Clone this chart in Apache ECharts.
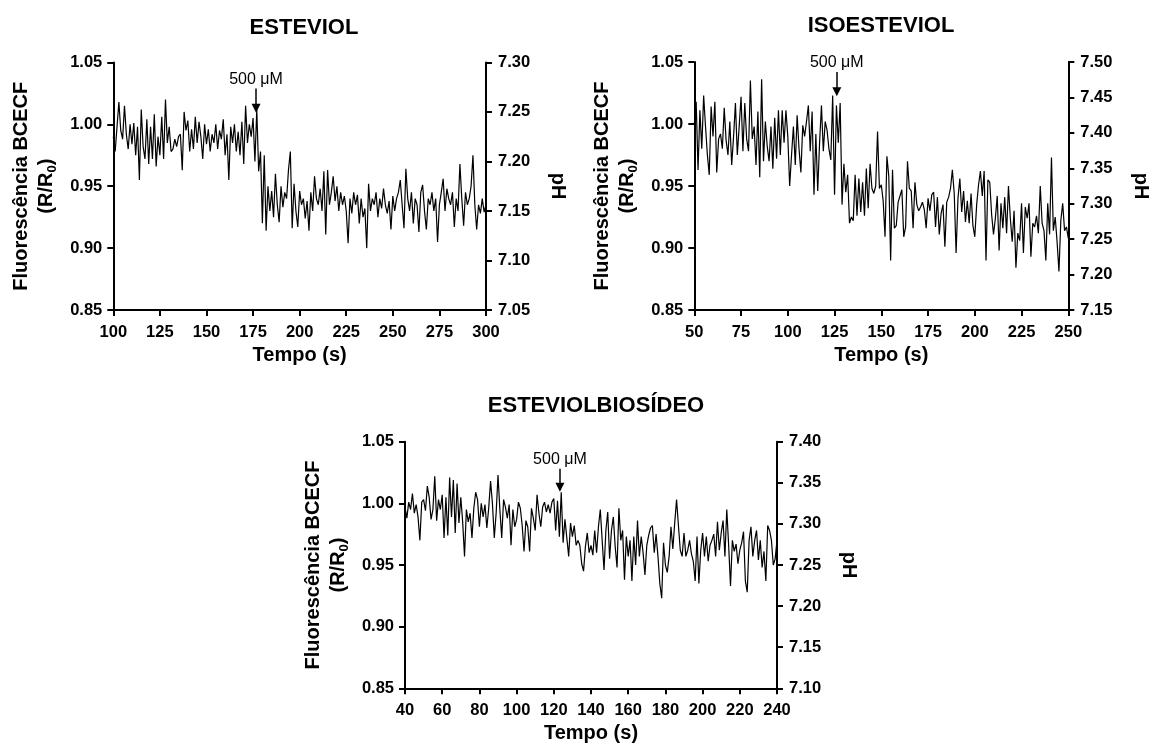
<!DOCTYPE html>
<html><head><meta charset="utf-8">
<script src="https://cdn.jsdelivr.net/npm/echarts@6/dist/echarts.min.js"></script>
<style>html,body{margin:0;padding:0;background:#fff}#c{width:1155px;height:746px}</style>
</head><body><div id="c"></div><script>
const FONT = "Arial, 'Liberation Sans', Helvetica, sans-serif";

// ---------- data (1 sample per second) ----------
const esteviolStart = 100;
const esteviolValues = [
0.990,0.978,0.998,1.018,0.995,0.988,1.015,0.992,0.980,1.000,
0.984,1.001,0.975,0.998,0.955,1.012,0.982,0.972,1.004,0.968,
0.998,0.972,1.008,0.966,0.990,0.975,1.006,0.972,1.020,0.985,
0.998,0.978,0.980,0.988,0.982,0.990,0.992,0.963,1.010,0.995,
1.003,0.978,0.996,0.980,1.006,0.985,1.002,0.990,0.972,1.000,
0.984,0.996,0.978,0.992,0.985,1.000,0.980,0.995,0.988,1.004,
0.975,0.992,0.955,0.998,0.985,1.000,0.978,0.994,0.975,1.002,
0.968,1.015,0.985,1.000,0.990,1.005,0.970,1.012,0.962,0.978,
0.920,0.975,0.914,0.950,0.930,0.946,0.925,0.960,0.935,0.921,
0.950,0.933,0.945,0.940,0.963,0.978,0.916,0.952,0.930,0.917,
0.946,0.935,0.940,0.924,0.938,0.914,0.945,0.930,0.958,0.940,
0.935,0.948,0.930,0.962,0.911,0.963,0.935,0.945,0.958,0.938,
0.950,0.930,0.945,0.935,0.942,0.930,0.904,0.940,0.928,0.945,
0.935,0.943,0.920,0.940,0.925,0.932,0.900,0.952,0.930,0.940,
0.935,0.945,0.925,0.940,0.932,0.948,0.935,0.928,0.938,0.915,
0.942,0.930,0.940,0.945,0.955,0.935,0.916,0.964,0.940,0.930,
0.945,0.920,0.940,0.935,0.913,0.945,0.951,0.930,0.915,0.940,
0.935,0.945,0.930,0.940,0.905,0.935,0.945,0.956,0.930,0.948,
0.940,0.935,0.945,0.917,0.940,0.930,0.968,0.940,0.918,0.945,
0.935,0.940,0.950,0.975,0.935,0.915,0.935,0.928,0.940,0.929,
0.935];

const isoesteviolStart = 50;
const isoesteviolValues = [
1.000,1.018,0.963,1.011,0.980,1.023,0.998,0.975,0.959,1.014,
0.990,1.018,0.961,0.988,0.992,0.980,1.013,0.987,0.975,1.002,
0.967,0.990,1.017,0.975,0.998,1.022,0.978,1.017,0.988,0.978,
1.035,0.988,0.998,0.967,1.010,0.957,1.036,0.970,1.002,0.982,
0.970,0.998,0.964,1.005,0.972,1.011,0.975,1.011,0.985,1.011,
0.990,0.950,0.975,0.998,0.967,1.007,0.980,0.961,0.999,0.990,
1.002,1.015,0.978,1.010,0.943,0.992,0.946,0.985,1.015,0.978,
1.002,0.995,0.980,0.971,1.023,0.943,1.015,0.985,1.017,0.935,
0.968,0.945,0.959,0.920,0.925,0.922,0.959,0.926,0.956,0.929,
0.953,0.926,0.964,0.932,0.968,0.948,0.944,0.950,0.994,0.948,
0.951,0.938,0.909,0.974,0.958,0.890,0.963,0.916,0.918,0.937,
0.938,0.947,0.909,0.917,0.970,0.948,0.946,0.916,0.953,0.935,
0.930,0.933,0.937,0.931,0.916,0.940,0.930,0.943,0.945,0.917,
0.941,0.911,0.928,0.935,0.901,0.937,0.941,0.948,0.963,0.944,
0.896,0.940,0.956,0.929,0.946,0.921,0.938,0.920,0.944,0.918,
0.909,0.935,0.951,0.962,0.942,0.962,0.890,0.955,0.953,0.927,
0.911,0.924,0.942,0.898,0.936,0.916,0.941,0.912,0.950,0.924,
0.905,0.930,0.884,0.912,0.906,0.936,0.896,0.933,0.924,0.936,
0.893,0.920,0.917,0.926,0.912,0.950,0.920,0.914,0.890,0.936,
0.911,0.973,0.914,0.925,0.905,0.881,0.922,0.936,0.914,0.917,
0.908];

const biosideoStart = 40;
const biosideoValues = [
0.997,0.988,1.001,0.995,1.008,0.992,0.999,0.989,0.970,1.001,
1.003,0.994,1.014,1.005,0.987,0.995,1.022,0.986,1.003,0.995,
1.007,0.972,1.005,0.974,1.021,0.989,1.019,0.976,1.016,0.984,
1.005,0.985,0.957,0.995,0.985,0.992,0.972,0.996,1.009,1.003,
0.981,1.000,0.989,0.999,0.980,0.996,1.018,1.000,0.972,0.992,
1.023,0.995,0.972,1.003,0.997,0.988,0.999,0.966,0.995,0.981,
0.987,1.001,0.996,0.982,0.961,0.986,0.981,0.961,0.996,0.988,
0.978,1.007,0.992,0.981,0.997,1.001,0.993,0.999,0.992,1.001,
1.004,0.978,1.002,0.973,1.009,0.968,0.987,0.972,0.957,0.984,
0.973,0.982,0.966,0.970,0.966,0.951,0.945,0.965,0.976,0.960,
0.966,0.958,0.978,0.960,0.981,0.995,0.970,0.946,0.978,0.993,
0.955,0.978,0.989,0.965,0.948,0.996,0.970,0.978,0.938,0.973,
0.957,0.970,0.937,0.973,0.950,0.986,0.957,0.973,0.960,0.942,
0.966,0.974,0.980,0.982,0.960,0.975,0.957,0.935,0.923,0.968,
0.950,0.944,0.957,0.981,0.963,0.984,1.003,0.982,0.962,0.957,
0.976,0.957,0.962,0.970,0.959,0.953,0.937,0.973,0.935,0.962,
0.976,0.957,0.973,0.953,0.966,0.970,0.975,0.957,0.985,0.962,
0.976,0.986,0.957,0.995,0.966,0.933,0.970,0.961,0.967,0.951,
0.962,0.968,0.977,0.937,0.928,0.970,0.981,0.957,0.970,0.978,
0.954,0.970,0.948,0.961,0.937,0.982,0.978,0.970,0.950,0.955,
0.970];

const panelTitles = ['ESTEVIOL', 'ISOESTEVIOL', 'ESTEVIOLBIOSÍDEO'];
const panelStarts = [esteviolStart, isoesteviolStart, biosideoStart];
const panelValues = [esteviolValues, isoesteviolValues, biosideoValues];
const timeAxes = [[100, 300, 25], [50, 250, 25], [40, 240, 20]];
const ratioAxis = [0.85, 1.05, 0.05];
const pHAxes = [[7.05, 7.30, 0.05], [7.15, 7.50, 0.05], [7.10, 7.40, 0.05]];
const injectionLabel = '500 μM';
const injectionArrows = [
  { t: 176.6, from: 1.029, to: 1.013 },
  { t: 126.2, from: 1.042, to: 1.026 },
  { t: 123.3, from: 1.028, to: 1.013 }
];

// ---------- layout ----------
const grids = [
  { left: 113.3, top: 62.4, width: 372.7, height: 247.6 },
  { left: 694.3, top: 62.0, width: 374.0, height: 248.0 },
  { left: 405.0, top: 441.7, width: 372.0, height: 246.6 }
];
const titlePos = [[304, 17], [881, 15], [596, 395]];

const axisLine = { show: true, onZero: false, lineStyle: { color: '#000', width: 2 } };
const axisTick = { show: true, inside: false, length: 6, lineStyle: { color: '#000', width: 2 } };
const labelBase = { color: '#000', fontSize: 16.5, fontWeight: 'bold', fontFamily: FONT };
const nameBase = { color: '#000', fontSize: 20, fontWeight: 'bold', fontFamily: FONT };

const xAxis = [], yAxis = [], series = [], graphic = [];
grids.forEach((g, i) => {
  const [xmin, xmax, xint] = timeAxes[i];
  xAxis.push({
    type: 'value', gridIndex: i, min: xmin, max: xmax, interval: xint,
    axisLine, axisTick, splitLine: { show: false },
    axisLabel: Object.assign({ margin: 14 }, labelBase),
    name: 'Tempo (s)', nameLocation: 'middle', nameGap: 35, nameTextStyle: nameBase
  });
  yAxis.push({
    type: 'value', gridIndex: i, position: 'left',
    min: ratioAxis[0], max: ratioAxis[1], interval: ratioAxis[2],
    axisLine, axisTick, splitLine: { show: false },
    axisLabel: Object.assign({ margin: 11, formatter: v => v.toFixed(2) }, labelBase),
    name: 'Fluorescência BCECF\n(R/R{sub|0})', nameLocation: 'middle', nameGap: 54,
    nameTextStyle: Object.assign({ lineHeight: 25, rich: {
      sub: { fontSize: 13, fontWeight: 'bold', fontFamily: FONT, color: '#000', verticalAlign: 'bottom', lineHeight: 13 }
    } }, nameBase)
  });
  const [pmin, pmax, pint] = pHAxes[i];
  yAxis.push({
    type: 'value', gridIndex: i, position: 'right',
    min: pmin, max: pmax, interval: pint,
    axisLine, axisTick, splitLine: { show: false },
    axisLabel: Object.assign({ margin: 12, formatter: v => v.toFixed(2) }, labelBase),
    name: 'pH', nameLocation: 'middle', nameGap: 62, nameRotate: -90, nameTextStyle: nameBase
  });
  const start = panelStarts[i];
  const data = panelValues[i].map((v, k) => [start + k, v]);
  const a = injectionArrows[i];
  series.push({
    type: 'line', xAxisIndex: i, yAxisIndex: i * 2, data,
    showSymbol: false, symbol: 'none', animation: false, silent: true,
    lineStyle: { color: '#000', width: 1.2 },
    markLine: {
      silent: true, animation: false, symbol: ['none', 'triangle'], symbolSize: [9, 9],
      lineStyle: { color: '#000', width: 1.5, type: 'solid' },
      label: { show: true, position: 'start', distance: 1, formatter: injectionLabel,
               color: '#000', fontSize: 16, fontWeight: 'normal', fontFamily: FONT },
      data: [[{ coord: [a.t, a.from] }, { coord: [a.t, a.to] }]]
    }
  });
  graphic.push({
    type: 'text', x: titlePos[i][0], y: titlePos[i][1], silent: true,
    style: { text: panelTitles[i], align: 'center', verticalAlign: 'top',
             fill: '#000', font: 'bold 22px ' + FONT }
  });
});

const chart = echarts.init(document.getElementById('c'), null, { renderer: 'canvas' });
chart.setOption({
  backgroundColor: '#fff',
  animation: false,
  grid: grids.map(g => Object.assign({ containLabel: false, outerBoundsMode: 'none' }, g)),
  xAxis, yAxis, series, graphic
});
</script></body></html>
